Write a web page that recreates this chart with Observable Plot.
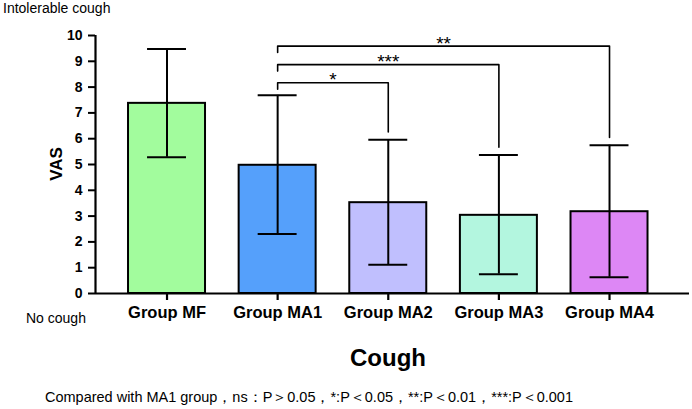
<!DOCTYPE html>
<html><head><meta charset="utf-8">
<script src="https://cdn.jsdelivr.net/npm/d3@7"></script>
<script src="https://cdn.jsdelivr.net/npm/@observablehq/plot@0.6"></script>
<style>
body{margin:0;background:#fff;}
#wrap{position:relative;width:692px;height:409px;overflow:hidden;font-family:"Liberation Sans",Arial,sans-serif;color:#000;}
#wrap svg{position:absolute;left:0;top:0;}
.lbl{position:absolute;white-space:nowrap;line-height:1;}
</style></head><body><div id="wrap"></div>
<script>
// ---- data ----
const groups = ["Group MF", "Group MA1", "Group MA2", "Group MA3", "Group MA4"];
const means  = [7.37, 4.97, 3.52, 3.03, 3.17];
const sdHigh = [9.48, 7.68, 5.96, 5.37, 5.75];
const sdLow  = [5.28, 2.31, 1.11, 0.75, 0.63];
const colors = ["#a2fc9d", "#55a0fb", "#c0bffe", "#b3f6df", "#dd87f5"];
const yTicks = [0, 1, 2, 3, 4, 5, 6, 7, 8, 9, 10];
const compareFrom = "Group MA1";
const compareTo = ["Group MA2", "Group MA3", "Group MA4"];
const bracketY = [8.17, 8.87, 9.59];
const bracketLabels = ["*", "***", "**"];
const caption = "Compared with MA1 group，ns：P＞0.05，*:P＜0.05，**:P＜0.01，***:P＜0.001";

// ---- derived tables ----
const table = groups.map((g, i) => ({group: g, i, mean: means[i], high: sdHigh[i], low: sdLow[i]}));
const idx = g => groups.indexOf(g);
const barHalf = 0.348, capHalf = 0.176, leftDrop = 0.25, rightGap = 0.3;
const brackets = compareTo.map((t, k) => ({
  id: k, a: idx(compareFrom), b: idx(t), y: bracketY[k], label: bracketLabels[k],
  yA: bracketY[k] - leftDrop, yB: sdHigh[idx(t)] + rightGap
}));
const bracketPts = brackets.flatMap(d => [
  {id: d.id, x: d.a, y: d.yA}, {id: d.id, x: d.a, y: d.y},
  {id: d.id, x: d.b, y: d.y}, {id: d.id, x: d.b, y: d.yB}
]);
const xDomain = [-0.6465, 4.723];

const plot = Plot.plot({
  width: 692, height: 330,
  marginLeft: 95, marginRight: 3, marginTop: 35, marginBottom: 37,
  style: {fontFamily: "'Liberation Sans', Arial, sans-serif", background: "transparent", overflow: "visible"},
  x: {type: "linear", domain: xDomain},
  y: {domain: [0, 10]},
  color: {domain: groups, range: colors},
  marks: [
    Plot.rectY(table, {x1: d => d.i - barHalf, x2: d => d.i + barHalf, y1: 0, y2: "mean", fill: "group", stroke: "black", strokeWidth: 2}),
    Plot.ruleX(table, {x: "i", y1: "low", y2: "high", stroke: "black", strokeWidth: 2}),
    Plot.ruleY(table, {y: "high", x1: d => d.i - capHalf, x2: d => d.i + capHalf, stroke: "black", strokeWidth: 2}),
    Plot.ruleY(table, {y: "low", x1: d => d.i - capHalf, x2: d => d.i + capHalf, stroke: "black", strokeWidth: 2}),
    Plot.line(bracketPts, {x: "x", y: "y", z: "id", stroke: "black", strokeWidth: 1.6, curve: "linear"}),
    Plot.text(brackets, {x: d => (d.a + d.b) / 2, y: "y", text: "label", fontSize: 19, lineAnchor: "bottom", dy: 3.5, fill: "black"}),
    Plot.ruleY([0], {stroke: "black", strokeWidth: 2.2}),
    Plot.ruleX([xDomain[0]], {y1: 0, y2: 10, stroke: "black", strokeWidth: 2.2}),
    Plot.axisY({ticks: yTicks, tickSize: 7, tickPadding: 6, fontSize: 14, fontWeight: "bold", strokeWidth: 2, label: null}),
    Plot.axisX({ticks: groups.map((g, i) => i), tickFormat: i => groups[i], tickSize: 7, tickPadding: 6, fontSize: 16.5, fontWeight: "bold", strokeWidth: 2.2, label: null})
  ]
});

const wrap = document.getElementById("wrap");
wrap.appendChild(plot);

function addLabel(text, css) {
  const d = document.createElement("div");
  d.className = "lbl";
  d.textContent = text;
  Object.assign(d.style, css);
  wrap.appendChild(d);
  return d;
}
addLabel("Intolerable cough", {left: "3px", top: "1px", fontSize: "14px"});
addLabel("No cough", {left: "26px", top: "311px", fontSize: "14px"});
addLabel("VAS", {left: "56px", top: "164px", fontSize: "17px", fontWeight: "bold", transform: "translate(-50%,-50%) rotate(-90deg)"});
addLabel("Cough", {left: "388px", top: "346px", fontSize: "24px", fontWeight: "bold", transform: "translateX(-50%)"});
const cap = addLabel(caption, {left: "45px", top: "390px", fontSize: "14.5px", transformOrigin: "left center"});
const w = cap.getBoundingClientRect().width;
cap.style.transform = `scaleX(${528 / w})`;
</script>
</body></html>
